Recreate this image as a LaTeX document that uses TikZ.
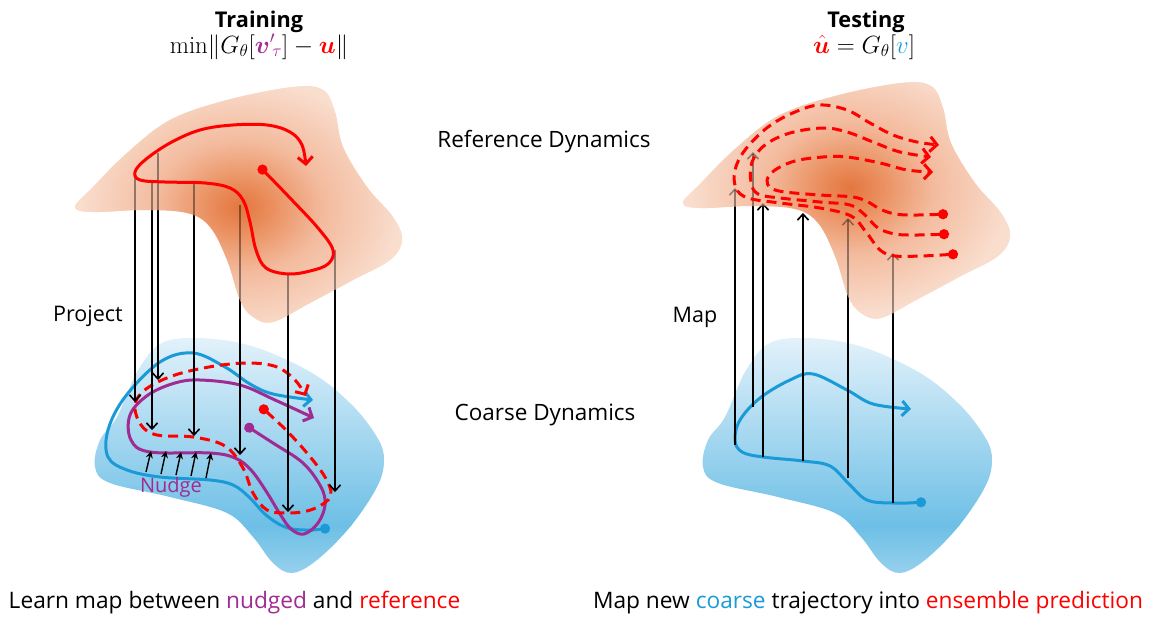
\documentclass[tikz,border=0pt]{standalone}
\usepackage{fontspec}
\usepackage{graphicx}
\usepackage{amsmath,bm}
\usetikzlibrary{arrows.meta}
\newfontfamily\labelfont{Open Sans}

\definecolor{refred}{HTML}{FF0000}
\definecolor{nudgepurple}{HTML}{A02B93}
\definecolor{coarseblue}{HTML}{1A9BD7}
\definecolor{glowcore}{HTML}{E3763F}
\definecolor{glowhot}{HTML}{EA8E5D}
\definecolor{glowmid}{HTML}{F3BB9E}
\definecolor{glowedge}{HTML}{F9DDCD}
\definecolor{seatop}{HTML}{E6F3FB}
\definecolor{seamid}{HTML}{6DBFE6}
\definecolor{seabot}{HTML}{9CD3EE}

% warm glow of the reference attractor
\pgfdeclareradialshading{orangeglow}{\pgfpoint{0bp}{0bp}}{%
  color(0bp)=(glowcore); color(4bp)=(glowhot); color(11bp)=(glowmid);
  color(21bp)=(glowedge); color(25bp)=(glowedge); color(50bp)=(glowedge)}

% outlines of the two state-space regions
\newcommand\refregion{plot[smooth cycle, tension=0.6] coordinates {
  (75,207) (93,187) (127,153) (170,120) (227,100) (293,87) (323,90)
  (335,112) (343,147) (367,187) (393,217) (402,240) (390,260) (353,280)
  (310,303) (273,322) (253,317) (240,300) (227,260) (210,227) (187,213)
  (143,210) (93,212)}}
\newcommand\coarseregion{plot[smooth cycle, tension=0.6] coordinates {
  (170,340) (240,343) (307,370) (350,403) (377,437) (384,460) (377,487)
  (350,527) (317,560) (292,573) (273,563) (253,537) (227,513) (170,497)
  (110,483) (95,467) (100,440) (117,417) (140,367)}}

\tikzset{
  lbl/.style={font=\labelfont\fontsize{22.5}{26}\selectfont, inner sep=0pt, anchor=base},
  sidelbl/.style={lbl, font=\labelfont\fontsize{21.5}{25}\selectfont},
  caption/.style={font=\labelfont\fontsize{22.7}{27}\selectfont, inner sep=0pt, anchor=base},
  heading/.style={font=\labelfont\bfseries\fontsize{21.7}{25}\selectfont, inner sep=0pt, anchor=base},
  formula/.style={font=\fontsize{20.74}{25}\selectfont, inner sep=0pt, anchor=base},
  traj/.style={line width=3pt, line cap=round, line join=round},
  dottip/.style={{Circle[length=10pt]}-{Straight Barb[length=7pt,width=15pt,line width=3pt]}},
  dashtraj/.style={traj, line cap=butt, dash pattern=on 10pt off 6pt},
  projarrow/.style={line width=1.5pt, -{Straight Barb[length=6pt,width=11pt,line width=1.5pt]}},
  nudgearrow/.style={line width=1.4pt, -{Stealth[length=7pt,width=7pt]}},
}

\begin{document}
\begin{tikzpicture}[x=1pt,y=-1pt]
\useasboundingbox (0,0) rectangle (1153,618);

% ---------- coarse regions (vertical blue gradient) ----------
\foreach \dx in {0,608}{
  \begin{scope}[shift={(\dx,0)}]
    \begin{scope}
      \clip \coarseregion;
      \shade[top color=seatop, bottom color=seamid] (80,332) rectangle (400,526);
      \shade[top color=seamid, bottom color=seabot] (80,525) rectangle (400,580);
    \end{scope}
  \end{scope}
}

% ---------- anchor points of the projection / map arrows ----------
\foreach \n/\x/\ya/\yb in {1/135/177/402, 2/152/181/430, 3/158/153/380,
    4/194/182/436, 5/240/205/455, 6/288/275/512, 7/335/250/492}{
  \coordinate (proj\n top) at (\x,\ya);
  \coordinate (proj\n end) at (\x,\yb);
}
\foreach \n/\x/\ya/\yb in {1/735/445/188, 2/753/407/152, 3/763/457/203,
    4/803/461/213, 5/848/478/218, 6/893/503/253}{
  \coordinate (map\n base) at (\x,\ya);
  \coordinate (map\n tip) at (\x,\yb);
}
\foreach \n/\x/\ya/\yb in {1/146/472/451, 2/161/474/451, 3/176/475/452,
    4/191/476/452, 5/206/478/453}{
  \coordinate (nudge\n base) at (\x,\ya);
  \coordinate (nudge\n tip) at (\x+5,\yb);
}

% ---------- training: coarse, nudged and projected trajectories ----------
\draw[traj, coarseblue, dottip] plot[smooth, tension=0.6] coordinates {
  (330,528) (305,530) (285,527) (266,515) (249,497) (233,485) (210,480)
  (160,477) (127,470) (108,457) (108,430) (125,397) (160,362) (193,353)
  (225,367) (250,384) (273,394) (313,400)};
\draw[traj, nudgepurple, dottip] plot[smooth, tension=0.6] coordinates {
  (245,425) (273,443) (303,463) (321,487) (325,505) (318,523) (304,534)
  (291,529) (280,514) (266,491) (251,470) (235,458) (210,453) (150,452)
  (131,440) (130,415) (148,395) (175,383) (200,380) (240,385) (275,400)
  (314,418)};
\draw[dashtraj, refred, dottip] plot[smooth, tension=0.6] coordinates {
  (260,406) (283,427) (307,453) (325,477) (331,494) (323,504) (307,511)
  (287,513) (267,510) (253,493) (243,468) (225,446) (193,437) (157,435)
  (141,425) (135,405) (146,389) (175,375) (215,366) (250,363) (277,367)
  (295,380) (306,396)};

% nudging arrows from coarse to nudged trajectory
\foreach \n in {1,...,5}
  \draw[nudgearrow] (nudge\n base) -- (nudge\n tip);

% ---------- testing: coarse trajectory ----------
\draw[traj, coarseblue, dottip] plot[smooth, tension=0.6] coordinates {
  (926,502) (893,503) (867,500) (849,484) (830,466) (803,461) (763,457)
  (742,452) (735,440) (740,420) (760,398) (790,380) (813,374) (847,390)
  (873,404) (911,409)};

% projection and map arrows (full strength, below the reference regions)
\foreach \n in {1,...,7}
  \draw[projarrow] (proj\n top) -- (proj\n end);
\foreach \n in {1,...,6}
  \draw[projarrow] (map\n base) -- (map\n tip);

% ---------- reference regions (radial orange glow) ----------
\begin{scope}
  \clip \refregion;
  \fill[glowedge] (60,80) rectangle (410,330);
  \shade[shading=orangeglow] (240,207) ellipse (190 and 150);
\end{scope}
\begin{scope}[shift={(608,-4)}]
  \clip \refregion;
  \fill[glowedge] (60,80) rectangle (410,330);
  \shade[shading=orangeglow] (242,192) ellipse (190 and 150);
\end{scope}

% arrows seen through the reference regions
\foreach \n in {1,...,7}
  \draw[projarrow, draw opacity=0.4] (proj\n top) -- (proj\n end);
\foreach \n in {1,...,6}
  \draw[projarrow, draw opacity=0.4] (map\n base) -- (map\n tip);

% ---------- training: reference trajectory ----------
\draw[traj, refred, dottip] plot[smooth, tension=0.6] coordinates {
  (259,166) (290,198) (318,228) (333,250) (328,264) (310,271) (288,274)
  (266,268) (256,250) (250,222) (243,200) (230,188) (205,183) (165,182)
  (140,180) (135,172) (145,160) (170,143) (200,130) (233,125) (267,125)
  (290,132) (302,145) (306,166)};

% ---------- testing: ensemble of predicted trajectories ----------
\draw[dashtraj, refred, dottip] plot[smooth, tension=0.6] coordinates {
  (958,254) (920,256) (895,256) (880,250) (866,232) (851,216) (820,208)
  (780,203) (748,198) (736,188) (735,170) (745,150) (768,127) (795,112)
  (820,105) (847,110) (870,123) (893,135) (917,142) (939,145)};
\draw[dashtraj, refred, dottip] plot[smooth, tension=0.6] coordinates {
  (949,234) (915,235) (895,234) (878,228) (865,215) (850,205) (820,202)
  (780,198) (758,194) (751,182) (752,162) (765,145) (790,133) (823,128)
  (847,132) (873,142) (900,152) (931,157)};
\draw[dashtraj, refred, dottip] plot[smooth, tension=0.6] coordinates {
  (948,214) (915,215) (895,214) (880,209) (868,202) (853,197) (820,195)
  (785,192) (771,188) (767,180) (775,170) (795,161) (823,157) (847,157)
  (880,163) (907,170) (933,172)};

% ---------- text ----------
\node[heading] (trainhead) at (259,28) {Training};
\node[formula] (trainloss) at (259,53)
  {\scalebox{1.2}{$\mathrm{min}\lVert G_\theta[\textcolor{nudgepurple}{\bm{v}'{}_{\!\tau}}]
   - \textcolor{refred}{\bm{u}}\rVert$}};
\node[heading] (testhead) at (866,28) {Testing};
\node[formula] (testmap) at (864,53)
  {\scalebox{1.2}{$\textcolor{refred}{\hat{\bm{u}}} = G_\theta[\textcolor{coarseblue}{v}]$}};

\node[lbl] (refdyn) at (544,147) {Reference Dynamics};
\node[lbl] (coarsedyn) at (545,420) {Coarse Dynamics};
\node[sidelbl] (projlbl) at (88,321) {Project};
\node[sidelbl] (maplbl) at (695,322) {Map};
\node[sidelbl, font=\labelfont\fontsize{20}{24}\selectfont, text=nudgepurple] (nudgelbl) at (171,492) {Nudge};

\node[caption] (learncap) at (234.5,608)
  {Learn map between \textcolor{nudgepurple}{nudged} and \textcolor{refred}{reference}};
\node[caption] (predcap) at (868,608)
  {Map new \textcolor{coarseblue}{coarse} trajectory into \textcolor{refred}{ensemble prediction}};
\end{tikzpicture}
\end{document}
